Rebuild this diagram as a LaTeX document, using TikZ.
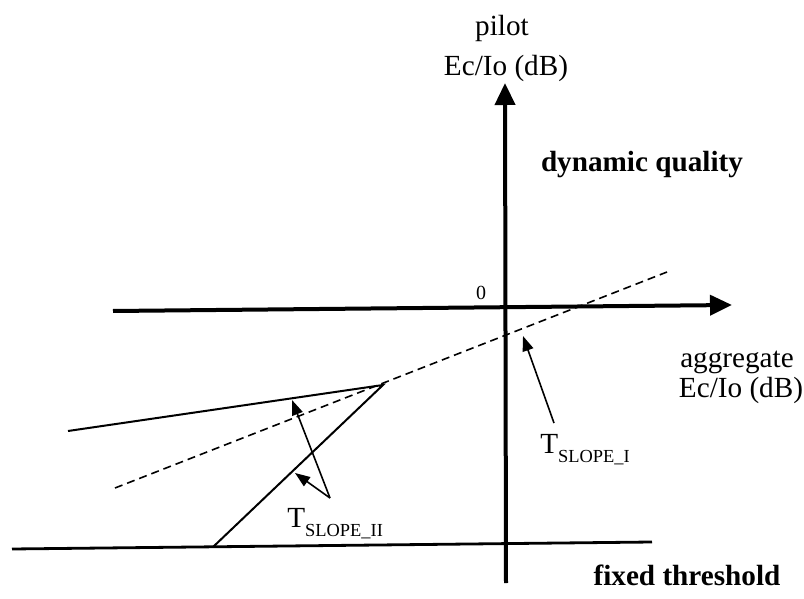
\documentclass[tikz,border=0pt]{standalone}
\usepackage{fontspec}
\setmainfont{Liberation Serif}
\usetikzlibrary{arrows.meta}
\newcommand{\tsub}[1]{T\raisebox{-4.5pt}{\fontsize{9.2pt}{10pt}\selectfont #1}}
\begin{document}
\begin{tikzpicture}[x=0.5pt,y=-0.5pt,
  lbl/.style={font=\fontsize{14.6pt}{17pt}\selectfont, inner sep=0pt, align=center},
  blbl/.style={lbl, font=\fontsize{14.6pt}{17pt}\selectfont\bfseries},
  axisline/.style={line width=2pt, -{Triangle[length=11pt,width=10pt]}},
  thinline/.style={line width=1pt},
  dashline/.style={line width=0.8pt, dash pattern=on 4pt off 2.5pt},
  ptr/.style={line width=0.8pt, -{Triangle[length=7.5pt,width=5.5pt]}}]
\useasboundingbox (0,0) rectangle (804,599);
% axes
\coordinate (xl) at (113,311);
\coordinate (xr) at (732,305);
\coordinate (yb) at (506,583);
\coordinate (yt) at (505,83);
\draw[axisline] (xl) -- (xr);
\draw[axisline] (yb) -- (yt);
% fixed threshold line
\coordinate (fl) at (12,549);
\coordinate (fr) at (652,542);
\draw[line width=1.4pt] (fl) -- (fr);
% dashed slope I line
\coordinate (dl) at (115,488);
\coordinate (dr) at (667,272);
\draw[dashline] (dl) -- (dr);
% slope II lines
\coordinate (ul) at (68,431);
\coordinate (apex) at (383,385);
\coordinate (sb) at (213,547);
\draw[thinline] (ul) -- (apex) -- (sb);
% labels
\node[lbl] (pilot) at (502,28) {pilot};
\node[lbl] (pec) at (506,68) {Ec/Io (dB)};
\node[blbl] (dq) at (642,165) {dynamic quality};
\node[lbl] (agg) at (737,362) {aggregate};
\node[lbl] (aec) at (741,390) {Ec/Io (dB)};
\node[blbl] (ft) at (687,575) {fixed threshold};
\node[lbl, font=\fontsize{10pt}{11pt}\selectfont] (zero) at (481,293) {0};
% T_SLOPE_I
\node[lbl, anchor=base west] (t1) at (540,453) {\tsub{SLOPE\_I}};
\coordinate (t1tail) at (554,423);
\coordinate (t1tip) at (523,336);
\draw[ptr] (t1tail) -- (t1tip);
% T_SLOPE_II
\node[lbl, anchor=base west] (t2) at (287,527) {\tsub{SLOPE\_II}};
\coordinate (t2tail) at (330,498);
\coordinate (t2tipa) at (292,400);
\coordinate (t2tipb) at (295,473);
\draw[ptr] (t2tail) -- (t2tipa);
\draw[ptr] (t2tail) -- (t2tipb);
\end{tikzpicture}
\end{document}
